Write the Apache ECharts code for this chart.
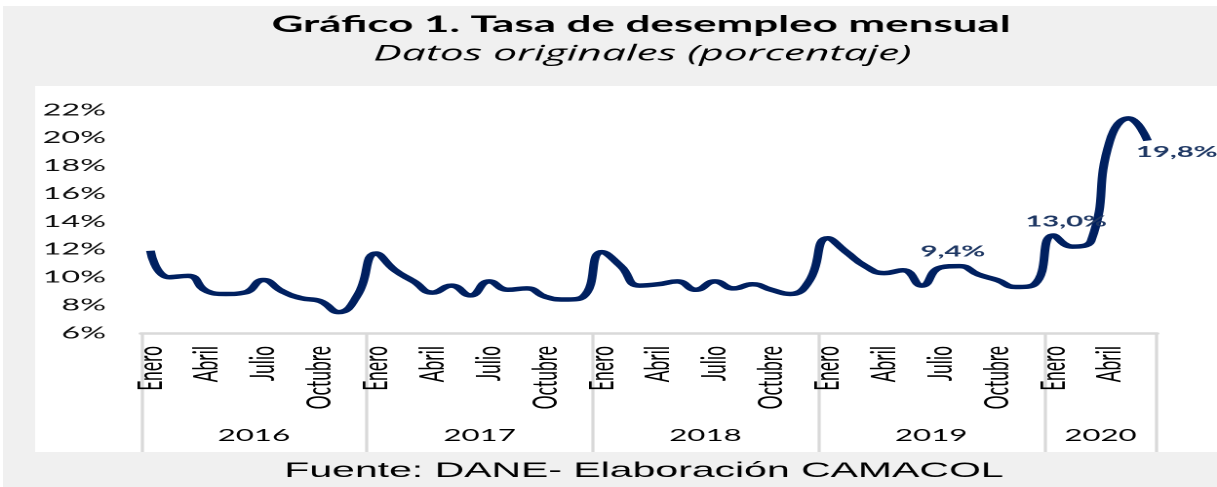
<!DOCTYPE html>
<html lang="es">
<head>
<meta charset="utf-8">
<title>Tasa de desempleo mensual</title>
<script src="https://cdn.jsdelivr.net/npm/echarts@6/dist/echarts.min.js"></script>
<style>
  html, body { margin: 0; padding: 0; background: #fff; overflow: hidden; }
  /* the reference is a narrow chart stretched sideways, so draw narrow and stretch */
  #chart { width: 624px; height: 487px; transform: scaleX(1.9503); transform-origin: 0 0; }
</style>
</head>
<body>
<div id="chart"></div>
<script>
const years = ['2016', '2017', '2018', '2019', '2020']
const monthNames = ['Enero', 'Febrero', 'Marzo', 'Abril', 'Mayo', 'Junio', 'Julio',
  'Agosto', 'Septiembre', 'Octubre', 'Noviembre', 'Diciembre']

// tasa de desempleo mensual (%)
const rate2016 = [11.9, 10.0, 10.1, 9.0, 8.8, 8.9, 9.8, 9.0, 8.5, 8.3, 7.5, 8.7]
const rate2017 = [11.7, 10.5, 9.7, 8.9, 9.4, 8.7, 9.7, 9.1, 9.2, 8.6, 8.4, 8.6]
const rate2018 = [11.8, 10.8, 9.4, 9.5, 9.7, 9.1, 9.7, 9.2, 9.5, 9.1, 8.8, 9.7]
const rate2019 = [12.8, 11.8, 10.8, 10.3, 10.5, 9.4, 10.7, 10.8, 10.2, 9.8, 9.3, 9.5]
const rate2020 = [13.0, 12.2, 12.6, 19.8, 21.4, 19.8]

// months that carry a value label (index in the full series)
const labeledMonths = [41, 48, 53]

const yTicks = { min: 6, max: 22, step: 2 }

// ---- build the series / axis lists ----
const ratesByYear = [rate2016, rate2017, rate2018, rate2019, rate2020]
const rates = ratesByYear.flat()
const monthAxis = []
const yearAxis = []
const yearStart = []
ratesByYear.forEach((arr, y) => {
  yearStart.push(monthAxis.length)
  arr.forEach((_, m) => {
    monthAxis.push(monthNames[m])
    yearAxis.push(years[y])
  })
})
const yearLabelIdx = ratesByYear.map((arr, y) => yearStart[y] + Math.floor(arr.length / 2))

const fmt = (v) => v.toFixed(1).replace('.', ',') + '%'

// layout (in the un-stretched 624px frame)
const W = 624
const gridLeft = 72.3
const gridRight = 30.8
const band = (W - gridLeft - gridRight) / rates.length

const labelOffsets = { 41: [16, -34], 48: [6.5, -14], 53: [15, 11.5] }

const navy = '#002060'
const grey = '#d9d9d9'

const chart = echarts.init(document.getElementById('chart'), null, { devicePixelRatio: 2 })

chart.setOption({
  animation: false,
  graphic: [
    { type: 'rect', z: -10, shape: { x: 1.5, y: 6, width: W, height: 487 }, style: { fill: '#f0f0f0' } },
    { type: 'rect', z: -9, shape: { x: 18, y: 86, width: W, height: 366 }, style: { fill: '#ffffff' } },
    {
      type: 'text', x: 328.7, y: 24.5,
      style: {
        text: 'Gráfico 1. Tasa de desempleo mensual', font: 'bold 22.5px Lato', fill: '#000',
        textAlign: 'center', textVerticalAlign: 'middle'
      }
    },
    {
      type: 'text', x: 329.4, y: 54.5,
      style: {
        text: 'Datos originales (porcentaje)', font: 'italic 21.8px "Open Sans"', fill: '#000',
        textAlign: 'center', textVerticalAlign: 'middle'
      }
    },
    {
      type: 'text', x: 330.2, y: 471,
      style: {
        text: 'Fuente: DANE- Elaboración CAMACOL', font: '21px "Liberation Sans"', fill: '#000',
        textAlign: 'center', textVerticalAlign: 'middle'
      }
    }
  ],
  grid: { left: gridLeft, right: gridRight, top: 110, bottom: 154 },
  xAxis: [
    {
      type: 'category',
      position: 'bottom',
      data: monthAxis,
      boundaryGap: true,
      axisLine: { lineStyle: { color: grey, width: 2.5 } },
      axisTick: { show: false },
      axisLabel: {
        interval: 2,
        rotate: 90,
        margin: 13,
        fontFamily: 'Lato',
        fontSize: 17.5,
        color: '#000'
      },
      splitLine: { show: false }
    },
    {
      type: 'category',
      position: 'bottom',
      data: yearAxis,
      boundaryGap: true,
      axisLine: { show: false },
      axisTick: {
        show: true,
        length: 119,
        interval: (i) => yearStart.includes(i),
        lineStyle: { color: grey, width: 1.6 }
      },
      axisLabel: {
        interval: (i) => yearLabelIdx.includes(i),
        margin: 95,
        padding: [0, band, 0, 0],
        fontFamily: 'Lato',
        fontSize: 16,
        color: '#000'
      },
      splitLine: { show: false }
    }
  ],
  yAxis: {
    type: 'value',
    min: yTicks.min,
    max: yTicks.max,
    interval: yTicks.step,
    axisLine: { show: false },
    axisTick: { show: false },
    splitLine: { show: false },
    axisLabel: {
      margin: 18,
      formatter: '{value}%',
      fontFamily: 'Lato',
      fontSize: 16.5,
      color: '#0d0d0d'
    }
  },
  series: [
    {
      type: 'line',
      xAxisIndex: 0,
      smooth: 0.5,
      symbol: 'circle',
      symbolSize: 0.1,
      showSymbol: true,
      lineStyle: { color: navy, width: 4.5 },
      itemStyle: { color: navy },
      label: { show: false },
      data: rates.map((v, i) => labeledMonths.includes(i)
        ? {
            value: v,
            label: {
              show: true,
              position: 'inside',
              offset: labelOffsets[i],
              formatter: fmt(v),
              fontFamily: 'Lato',
              fontWeight: 'bold',
              fontSize: 15,
              color: '#1f3864'
            }
          }
        : v)
    }
  ]
})
</script>
</body>
</html>
